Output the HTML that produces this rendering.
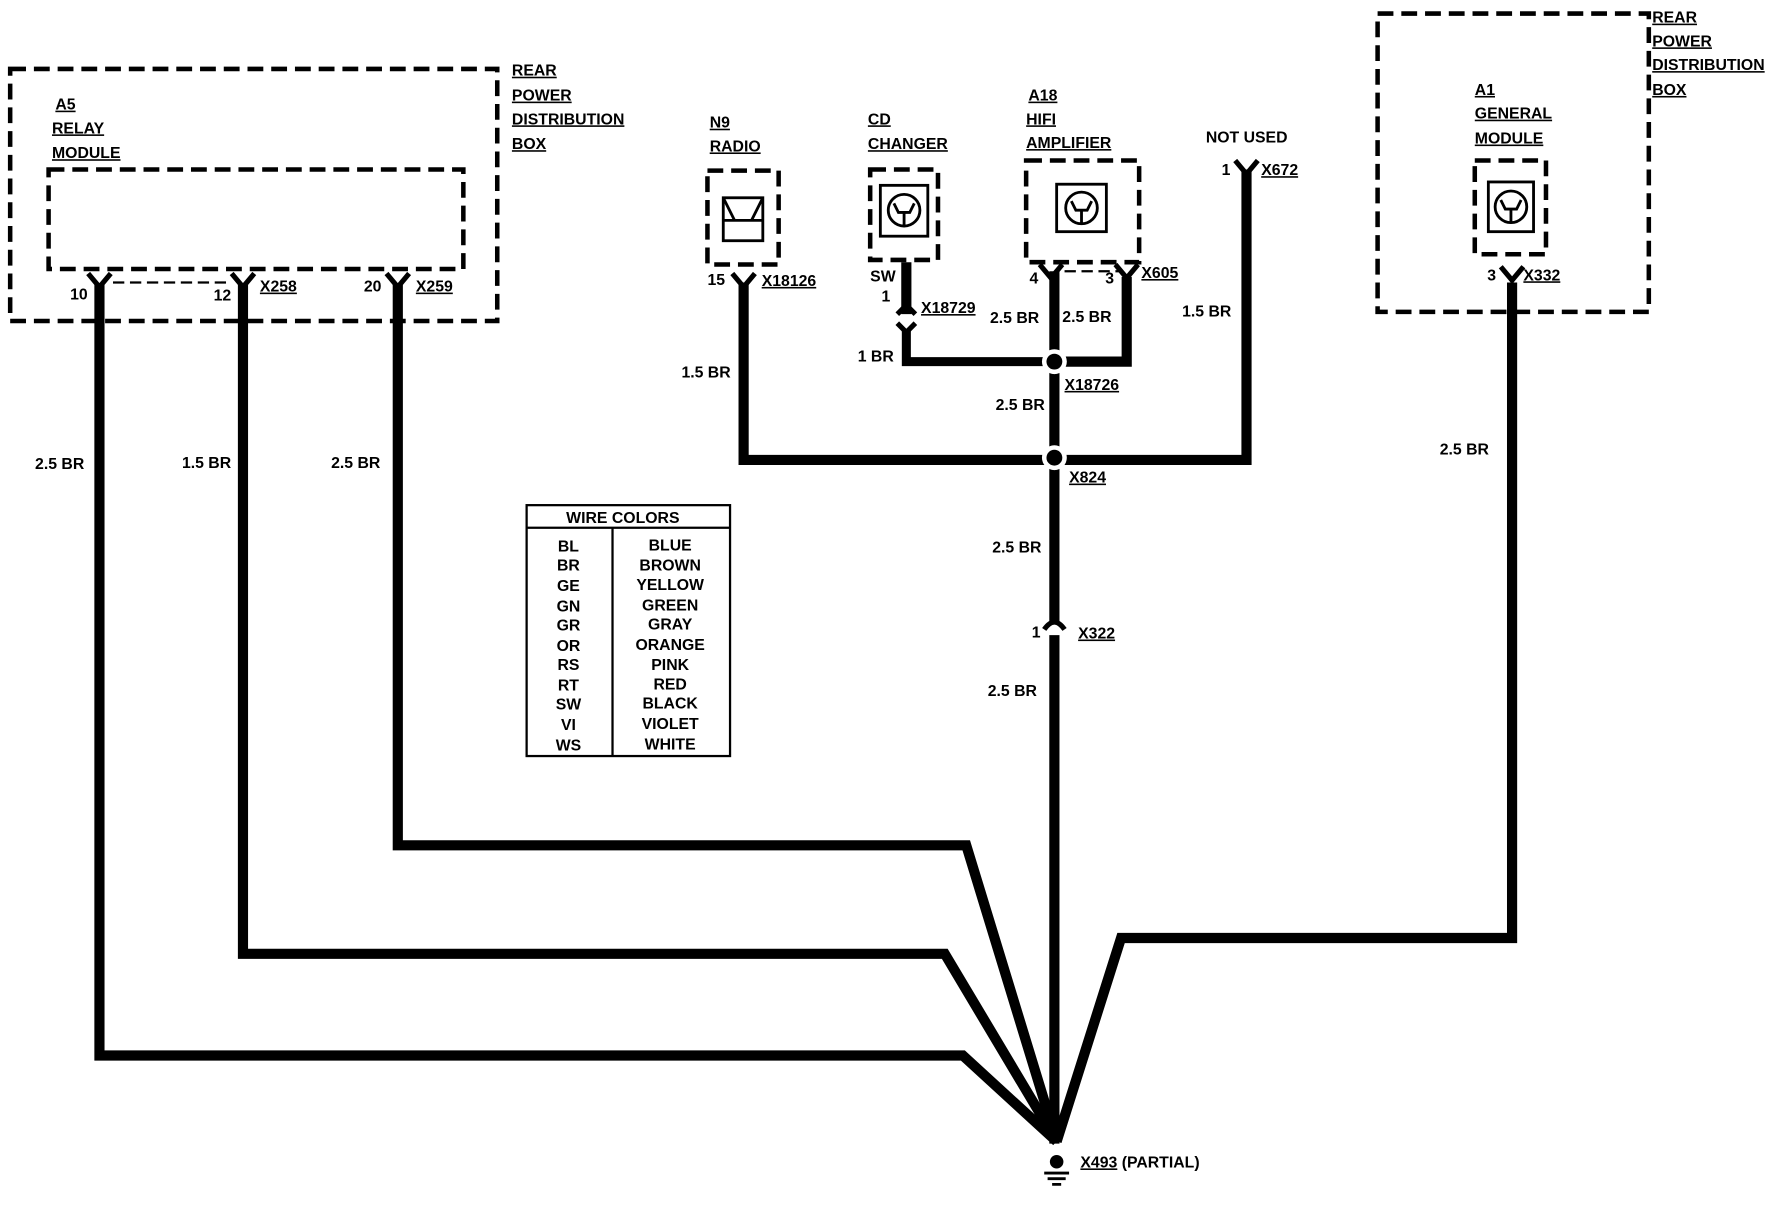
<!DOCTYPE html>
<html><head><meta charset="utf-8"><style>
html,body{margin:0;padding:0;background:#fff;}
svg{display:block;}
text{font-family:"Liberation Sans Narrow","Liberation Sans",sans-serif;font-weight:bold;font-size:14px;fill:#000;}
.u{text-decoration:underline;}
</style></head><body>
<svg width="1772" height="1216" viewBox="0 0 1568 1076" xmlns="http://www.w3.org/2000/svg">
<g fill="none" stroke="#000" stroke-width="4" stroke-dasharray="14,7">
<rect x="9" y="61" width="431" height="223"/>
<rect x="43" y="150" width="367" height="88"/>
<rect x="626" y="151" width="63" height="83"/>
<rect x="770" y="150" width="60" height="80"/>
<rect x="908" y="142" width="100" height="90"/>
<rect x="1219" y="12" width="240" height="264"/>
<rect x="1305" y="142" width="63" height="83"/>
</g>
<g fill="none" stroke="#000" stroke-width="2.5">
<rect x="640" y="175" width="35" height="38"/><path d="M640 175 L650 195 H665 L675 175 M640 195 H675"/>
<rect x="779" y="164" width="42" height="45"/><circle cx="800" cy="186" r="14"/><path d="M791 180 L795 188 H805 L809 180 M800 188 V200"/>
<rect x="935" y="163" width="44" height="42"/><circle cx="957" cy="184" r="14"/><path d="M948 178 L952 186 H962 L966 178 M957 186 V198"/>
<rect x="1317" y="161" width="40" height="44"/><circle cx="1337" cy="183" r="14"/><path d="M1328 177 L1332 185 H1342 L1346 177 M1337 185 V197"/>
</g>
<g fill="none" stroke="#000" stroke-width="9" stroke-linejoin="miter">
<path d="M88 252 V934 H852 L935 1010"/>
<path d="M215 252 V844 H836 L935 1010"/>
<path d="M352 252 V748 H855 L935 1010"/>
<path d="M1338 250 V830 H992 L935 1010"/>
<path d="M933 240 V550 M933 562 V1012"/>
<path d="M658 250 V407 H933 H1103 V150"/>
<path d="M997 245 V320 H933"/>
<path d="M802 232 V278"/>
<path d="M802 292 V320 H933" stroke-width="8"/>
</g>
<g fill="none" stroke="#000" stroke-width="4.5">
<path d="M78 242 L88 254 L98 242"/><path d="M205 242 L215 254 L225 242"/><path d="M342 242 L352 254 L362 242"/>
<path d="M648 242 L658 254 L668 242"/><path d="M920 234 L930 246 L940 234"/><path d="M987 234 L997 246 L1007 234"/>
<path d="M1093 142 L1103 154 L1113 142"/><path d="M1328 236 L1338 248 L1348 236"/>
<path d="M794 278 L802 270 L810 278 M794 286 L802 294 L810 286"/>
<path d="M924 557 Q933 544 942 557"/>
</g>
<g stroke="#000" stroke-width="2" stroke-dasharray="10,5"><path d="M100 250 H200"/><path d="M942 240 H990"/></g>
<circle cx="933" cy="320" r="11" fill="#fff"/><circle cx="933" cy="320" r="7"/>
<circle cx="933" cy="405" r="11" fill="#fff"/><circle cx="933" cy="405" r="7"/>
<circle cx="935" cy="1028" r="6"/><path d="M924 1038 H946 M927 1043 H943 M931 1048 H939" stroke="#000" stroke-width="2.5"/>
<g fill="none" stroke="#000" stroke-width="2"><rect x="466" y="447" width="180" height="222"/><path d="M466 467 H646 M542 467 V669"/></g>
<text x="501" y="463">WIRE COLORS</text>
<g text-anchor="middle">
<text x="503" y="488">BL</text><text x="503" y="505">BR</text><text x="503" y="523">GE</text><text x="503" y="541">GN</text><text x="503" y="558">GR</text><text x="503" y="576">OR</text><text x="503" y="593">RS</text><text x="503" y="611">RT</text><text x="503" y="628">SW</text><text x="503" y="646">VI</text><text x="503" y="664">WS</text>
<text x="593" y="487">BLUE</text><text x="593" y="505">BROWN</text><text x="593" y="522">YELLOW</text><text x="593" y="540">GREEN</text><text x="593" y="557">GRAY</text><text x="593" y="575">ORANGE</text><text x="593" y="593">PINK</text><text x="593" y="610">RED</text><text x="593" y="627">BLACK</text><text x="593" y="645">VIOLET</text><text x="593" y="663">WHITE</text>
</g>
<text x="453" y="67" class="u">REAR</text><text x="453" y="89" class="u">POWER</text><text x="453" y="110" class="u">DISTRIBUTION</text><text x="453" y="132" class="u">BOX</text>
<text x="49" y="97" class="u">A5</text><text x="46" y="118" class="u">RELAY</text><text x="46" y="140" class="u">MODULE</text>
<text x="62" y="265">10</text><text x="189" y="266">12</text><text x="230" y="258" class="u">X258</text><text x="322" y="258">20</text><text x="368" y="258" class="u">X259</text>
<text x="31" y="415">2.5 BR</text><text x="161" y="414">1.5 BR</text><text x="293" y="414">2.5 BR</text>
<text x="628" y="113" class="u">N9</text><text x="628" y="134" class="u">RADIO</text>
<text x="768" y="110" class="u">CD</text><text x="768" y="132" class="u">CHANGER</text>
<text x="910" y="89" class="u">A18</text><text x="908" y="110" class="u">HIFI</text><text x="908" y="131" class="u">AMPLIFIER</text>
<text x="1067" y="126">NOT USED</text><text x="1081" y="155">1</text><text x="1116" y="155" class="u">X672</text>
<text x="626" y="252">15</text><text x="674" y="253" class="u">X18126</text>
<text x="770" y="249">SW</text><text x="780" y="267">1</text><text x="815" y="277" class="u">X18729</text>
<text x="911" y="251">4</text><text x="978" y="251">3</text><text x="1010" y="246" class="u">X605</text>
<text x="876" y="286">2.5 BR</text><text x="940" y="285">2.5 BR</text><text x="1046" y="280">1.5 BR</text>
<text x="759" y="320">1 BR</text><text x="603" y="334">1.5 BR</text>
<text x="942" y="345" class="u">X18726</text><text x="881" y="363">2.5 BR</text>
<text x="946" y="427" class="u">X824</text>
<text x="878" y="489">2.5 BR</text><text x="913" y="564">1</text><text x="954" y="565" class="u">X322</text><text x="874" y="616">2.5 BR</text>
<text x="1462" y="20" class="u">REAR</text><text x="1462" y="41" class="u">POWER</text><text x="1462" y="62" class="u">DISTRIBUTION</text><text x="1462" y="84" class="u">BOX</text>
<text x="1305" y="84" class="u">A1</text><text x="1305" y="105" class="u">GENERAL</text><text x="1305" y="127" class="u">MODULE</text>
<text x="1316" y="248">3</text><text x="1348" y="248" class="u">X332</text><text x="1274" y="402">2.5 BR</text>
<text x="956" y="1033"><tspan class="u">X493</tspan> (PARTIAL)</text>
</svg>
</body></html>
